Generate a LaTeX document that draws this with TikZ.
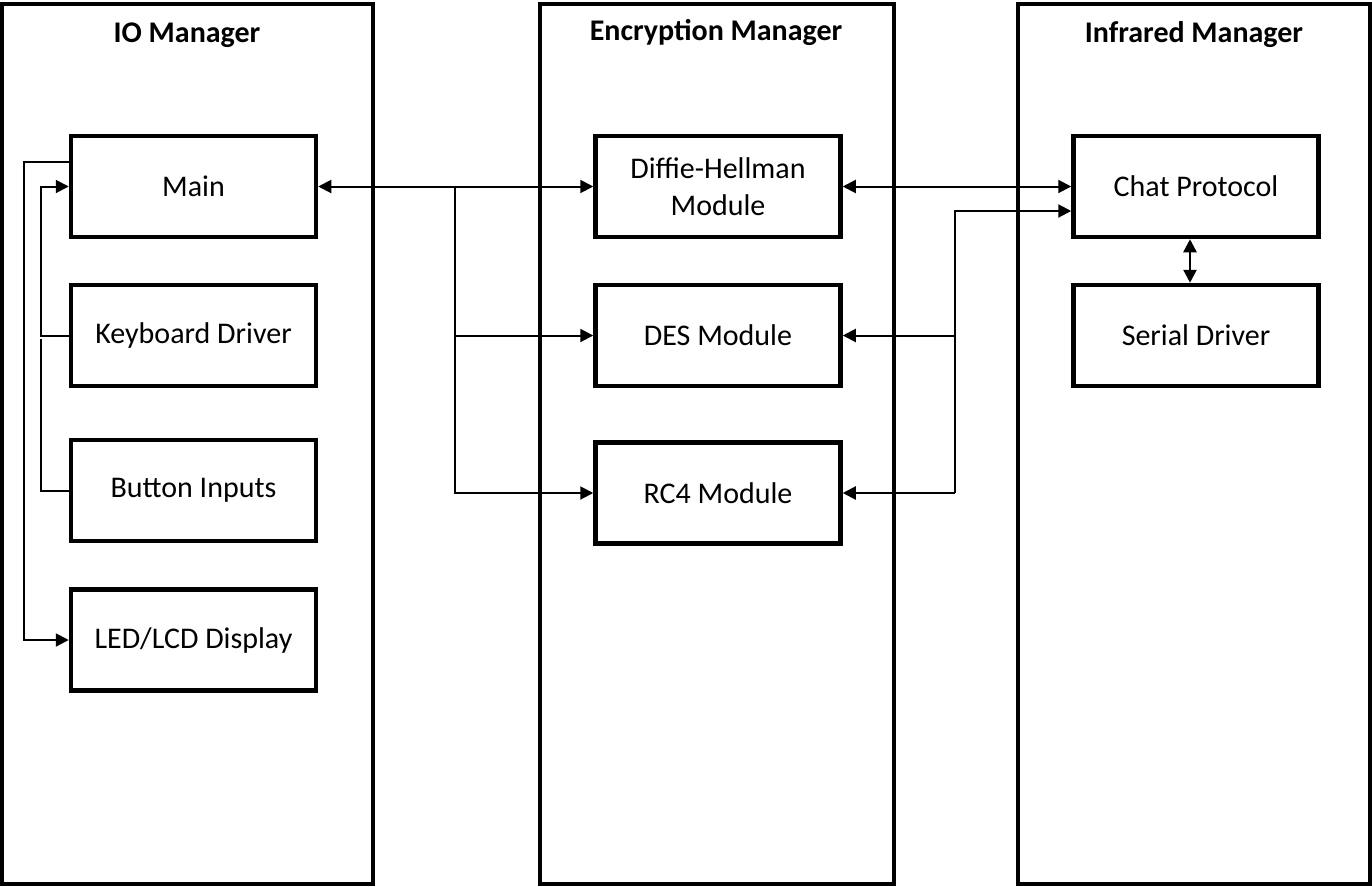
\documentclass[tikz,border=0pt]{standalone}
\usepackage{fontspec}
\setmainfont{Carlito}
\usetikzlibrary{arrows.meta}
\begin{document}
\begin{tikzpicture}[x=1pt,y=-1pt,
  container/.style={draw,line width=4.5pt},
  block/.style={draw,line width=4.5pt,minimum width=245pt,minimum height=101pt,inner sep=0pt,align=center,font=\fontsize{30}{37}\selectfont},
  title/.style={font=\fontsize{30}{34}\selectfont\bfseries},
  conn/.style={line width=2pt},
  arr/.style={conn,-{Triangle[length=13pt,width=13pt]}},
  barr/.style={conn,{Triangle[length=13pt,width=13pt]}-{Triangle[length=13pt,width=13pt]}}]
\useasboundingbox (0,0) rectangle (1372,886);
% containers
\draw[container] (2,4) rectangle (373,884);
\draw[container] (540,4) rectangle (894,884);
\draw[container] (1018,4) rectangle (1370,884);
\node[title] (tio) at (187,35) {IO Manager};
\node[title] (tenc) at (716,32) {Encryption Manager};
\node[title] (tir) at (1194,35) {Infrared Manager};
% blocks
\node[block] (main) at (193.5,186.5) {Main};
\node[block] (kb) at (193.5,335.5) {Keyboard Driver};
\node[block] (bi) at (193.5,490.5) {Button Inputs};
\node[block] (led) at (193.5,640) {LED/LCD Display};
\node[block] (dh) at (718,186.5) {Diffie-Hellman\\Module};
\node[block] (des) at (718,335.5) {DES Module};
\node[block] (rc4) at (718,493) {RC4 Module};
\node[block] (chat) at (1196,186.5) {Chat Protocol};
\node[block] (ser) at (1196,335.5) {Serial Driver};
% left connectors
\draw[arr] (main.west |- 0,162) -- (24,162) |- (led.west);
\draw[arr] (kb.west) -- (41,335.5) |- (main.west);
\draw[conn] (bi.west) -- (41,490.5) -- (41,339);
% middle
\draw[barr] (main.east) -- (dh.west);
\coordinate (j) at (455,186.5);
\draw[arr] (j) |- (des.west);
\draw[arr] (j) |- (rc4.west);
% right
\draw[barr] (dh.east) -- (chat.west);
\coordinate (k) at (955,493);
\draw[arr] (k) -- (rc4.east);
\draw[arr] (k |- des.east) -- (des.east);
\draw[arr] (k) |- (chat.west |- 0,211);
\draw[barr,line width=2.5pt] ([xshift=-6pt]chat.south) -- ([xshift=-6pt]ser.north);
\end{tikzpicture}
\end{document}
